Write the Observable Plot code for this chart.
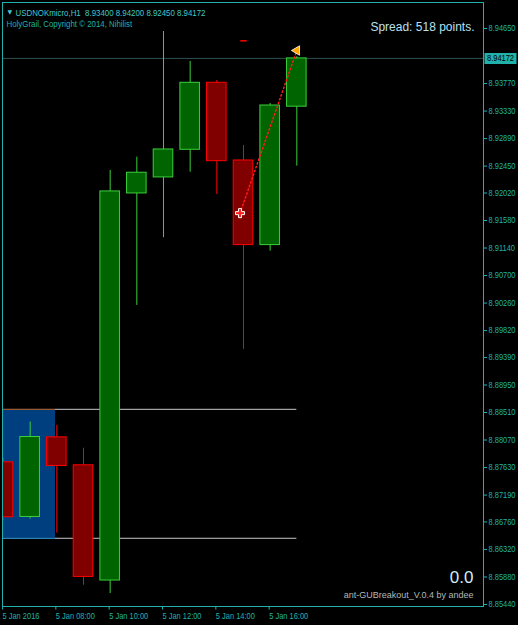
<!DOCTYPE html>
<html>
<head>
<meta charset="utf-8">
<script src="https://cdn.jsdelivr.net/npm/d3@7"></script>
<script src="https://cdn.jsdelivr.net/npm/@observablehq/plot@0.6"></script>
<style>
  html, body { margin: 0; padding: 0; background: #000; }
  #chart svg { display: block; }
</style>
</head>
<body>
<div id="chart"></div>
<script>
// ---- data ----
const symbolTitle = "USDNOKmicro,H1  8.93400 8.94200 8.92450 8.94172";
const copyright = "HolyGrail, Copyright \u00a9 2014, Nihilist";
const spreadText = "Spread: 518 points.";
const bigValue = "0.0";
const credit = "ant-GUBreakout_V.0.4 by andee";

const hours  = [6, 7, 8, 9, 10, 11, 12, 13, 14, 15, 16, 17];
const opens  = [8.87714, 8.86840, 8.88113, 8.87666, 8.85823, 8.92013, 8.92269, 8.92711, 8.93782, 8.92540, 8.91187, 8.93400];
const highs  = [8.87778, 8.88358, 8.88305, 8.87938, 8.92381, 8.92593, 8.94602, 8.94123, 8.93819, 8.92780, 8.93451, 8.94200];
const lows   = [8.86787, 8.86808, 8.86579, 8.85748, 8.85615, 8.90223, 8.91305, 8.92353, 8.91997, 8.89520, 8.91091, 8.92450];
const closes = [8.86835, 8.88118, 8.87655, 8.85881, 8.92045, 8.92344, 8.92716, 8.93782, 8.92529, 8.91187, 8.93419, 8.94172];

const lastPrice = 8.94172;
const boxHours = [0, 7.95];          // breakout box (day start to ~08:00)
const boxHigh = 8.88561, boxLow = 8.86499;
const levelHours = [7.95, 17];       // level lines extend to current bar
const signalHours = [14.87, 17.0];
const signalPrices = [8.91698, 8.94298];
const markHours = [14.88, 15.12];
const markPrice = 8.94453;

const yTicks = [8.94650, 8.93770, 8.93330, 8.92890, 8.92450, 8.92020, 8.91580, 8.91140, 8.90700, 8.90260,
                8.89820, 8.89390, 8.88950, 8.88510, 8.88070, 8.87630, 8.87190, 8.86760, 8.86320, 8.85880, 8.85440];
const xTickHours = [6, 8, 10, 12, 14, 16];
const xTickLabels = ["5 Jan 2016", "5 Jan 08:00", "5 Jan 10:00", "5 Jan 12:00", "5 Jan 14:00", "5 Jan 16:00"];

// ---- helpers ----
const t = h => new Date(Date.UTC(2016, 0, 5, 0, 0) + h * 3600e3);
const candles = hours.map((h, i) => ({time: t(h), open: opens[i], high: highs[i], low: lows[i], close: closes[i]}));
const halfBody = 22 * 60e3;

const teal = "#20b2aa";
const upFill = "#006400", upStroke = "#3ad03a";
const dnFill = "#800000", dnStroke = "#ff0000";
const narrow = "'Liberation Sans', sans-serif";          // condensed after render
const arial = "'Liberation Sans', Arial, sans-serif";
const isUp = d => d.close >= d.open;

const boxSymbol = {draw(ctx) { ctx.rect(-16, -5.5, 32, 11); }};

const chart = Plot.plot({
  width: 518,
  height: 625,
  marginLeft: 2,
  marginRight: 35,
  marginTop: 2,
  marginBottom: 19,
  style: {background: "#000", color: teal, fontFamily: arial, fontSize: "9px"},
  x: {type: "utc", domain: [new Date(Date.UTC(2016, 0, 5, 5, 57, 45)), t(24)]},
  y: {domain: [8.85408, 8.95066]},
  marks: [
    // breakout box
    Plot.rect([0], {x1: () => t(boxHours[0]), x2: () => t(boxHours[1]), y1: () => boxLow, y2: () => boxHigh, fill: "#003f7f", clip: true}),
    Plot.ruleY([boxHigh], {x1: () => t(boxHours[0]), x2: () => t(boxHours[1]), stroke: "#c0601c", clip: true}),
    Plot.ruleY([boxLow], {x1: () => t(boxHours[0]), x2: () => t(boxHours[1]), stroke: "#3aa8f0", clip: true}),
    Plot.ruleY([boxHigh, boxLow], {x1: () => t(levelHours[0]), x2: () => t(levelHours[1]), stroke: "#c8c8c8", clip: true}),
    // current price line
    Plot.ruleY([lastPrice], {stroke: "#2f4f4f"}),
    // candles
    Plot.ruleX(candles, {x: "time", y1: "low", y2: "high", stroke: d => isUp(d) ? upStroke : dnStroke, clip: true}),
    Plot.rect(candles, {
      x1: d => new Date(+d.time - halfBody), x2: d => new Date(+d.time + halfBody),
      y1: "open", y2: "close",
      fill: d => isUp(d) ? upFill : dnFill,
      stroke: d => isUp(d) ? upStroke : dnStroke,
      clip: true
    }),
    // signal
    Plot.line(signalHours.map((h, i) => ({time: t(h), price: signalPrices[i]})), {
      x: "time", y: "price", stroke: "#ff1a1a", strokeWidth: 1.5, strokeDasharray: "1.5,2.5"
    }),
    Plot.link([0], {x1: () => t(markHours[0]), x2: () => t(markHours[1]), y1: () => markPrice, y2: () => markPrice, stroke: "#ff0000", strokeWidth: 1.5}),
    Plot.dot([0], {x: () => t(signalHours[0]), y: () => signalPrices[0], symbol: "cross", r: 3.8, fill: "#ff2020", stroke: "#ffffff", strokeWidth: 1}),
    Plot.dot([0], {x: () => t(signalHours[1]), y: () => signalPrices[1], symbol: "triangle", r: 3.5, rotate: -90, fill: "#ffa500", stroke: "#ffffff", strokeWidth: 0.8}),
    // axes
    Plot.axisY(yTicks, {anchor: "right", tickSize: 3, tickPadding: 2, tickFormat: d3.format(".5f"),
      fill: teal, stroke: teal, fontSize: 9, fontFamily: narrow, label: null}),
    Plot.axisX(xTickHours.map(t), {anchor: "bottom", tickSize: 3.5, tickPadding: 2.5,
      tickFormat: d => xTickLabels[xTickHours.indexOf(d.getUTCHours())],
      textAnchor: "start", dx: -1, fill: teal, stroke: teal, fontSize: 9, fontFamily: narrow, label: null}),
    // current price label
    Plot.dot([lastPrice], {y: d => d, frameAnchor: "right", dx: 17, symbol: boxSymbol, r: 1, fill: teal, stroke: null}),
    Plot.text([lastPrice], {y: d => d, frameAnchor: "right", dx: 3.5, text: d => d3.format(".5f")(d),
      textAnchor: "start", fill: "#000", fontSize: 9, fontFamily: narrow}),
    Plot.frame({stroke: teal}),
    // texts
    Plot.text(["\u25BC"], {frameAnchor: "top-left", dx: 5, dy: 7, textAnchor: "start", fill: "#40c8c8", fontSize: 6, fontFamily: "'DejaVu Sans', sans-serif"}),
    Plot.text([symbolTitle], {frameAnchor: "top-left", dx: 13, dy: 7, textAnchor: "start", fill: "#40c8c8", fontSize: 9.5, fontFamily: narrow}),
    Plot.text([copyright], {frameAnchor: "top-left", dx: 4, dy: 17.7, textAnchor: "start", fill: teal, fontSize: 9.5, fontFamily: narrow}),
    Plot.text([spreadText], {frameAnchor: "top-right", dx: -9, dy: 19.5, textAnchor: "end", fill: "#b8e0f0", fontSize: 12, fontFamily: arial}),
    Plot.text([bigValue], {frameAnchor: "bottom-right", dx: -10, dy: -23.5, textAnchor: "end", fill: "#d0ecf8", fontSize: 17, fontFamily: arial}),
    Plot.text([credit], {frameAnchor: "bottom-right", dx: -10, dy: -9, textAnchor: "end", fill: "#b0b8b8", fontSize: 9, fontFamily: arial})
  ]
});
document.getElementById("chart").appendChild(chart);

// emulate the condensed terminal font: squeeze the "narrow" texts horizontally about their anchor
d3.select(chart).selectAll("g")
  .filter(function() { return this.getAttribute("font-family") === narrow; })
  .selectAll("text")
  .each(function() {
    const tr = this.getAttribute("transform") || "";
    this.setAttribute("transform", (tr + " scale(0.83,1)").trim());
  });
</script>
</body>
</html>
